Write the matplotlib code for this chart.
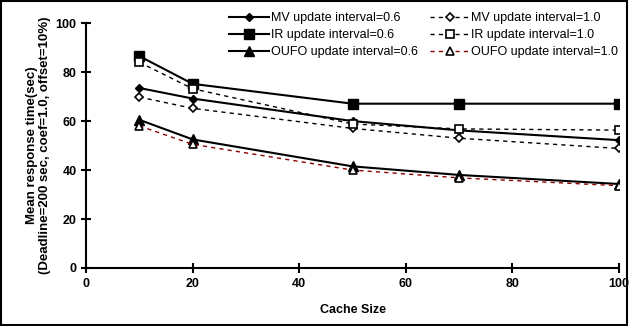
import matplotlib.pyplot as plt
from matplotlib.patches import Rectangle

cache_size = [10, 20, 50, 70, 100]
mv_06 = [73.5, 69.2, 60.0, 56.2, 52.2]
mv_10 = [69.8, 65.2, 57.0, 53.0, 48.8]
ir_06 = [86.5, 75.2, 67.1, 67.1, 67.1]
ir_10 = [84.0, 73.2, 58.8, 56.8, 56.3]
oufo_06 = [60.5, 52.5, 41.5, 38.0, 34.3]
oufo_10 = [58.0, 50.5, 40.0, 36.8, 33.6]

plt.rcParams["font.family"] = ["Liberation Sans", "DejaVu Sans"]

fig = plt.figure(figsize=(6.29, 3.26), dpi=100)
ax = fig.add_axes([0.137, 0.178, 0.847, 0.751])

ax.plot(cache_size, mv_06, color="black", lw=1.5, marker="D", ms=4.5,
        label="MV update interval=0.6")
ax.plot(cache_size, mv_10, color="black", lw=1.0, ls=(0, (3, 3)), marker="D",
        ms=4, mfc="white", mew=1.2, label="MV update interval=1.0")
ax.plot(cache_size, ir_06, color="black", lw=1.5, marker="s", ms=6.5,
        label="IR update interval=0.6")
ax.plot(cache_size, ir_10, color="black", lw=1.0, ls=(0, (3, 3)), marker="s",
        ms=6, mfc="white", mew=1.2, label="IR update interval=1.0")
ax.plot(cache_size, oufo_06, color="black", lw=1.5, marker="^", ms=6.5,
        label="OUFO update interval=0.6")
ax.plot(cache_size, oufo_10, color="#8b0000", lw=1.0, ls=(0, (3, 3)),
        marker="^", ms=6, mfc="white", mec="black", mew=1.2,
        label="OUFO update interval=1.0")

ax.set_xlim(0, 100)
ax.set_ylim(0, 100)
ax.set_xticks([0, 20, 40, 60, 80, 100])
ax.set_yticks([0, 20, 40, 60, 80, 100])
ax.spines["top"].set_visible(False)
ax.spines["right"].set_visible(False)
ax.spines["left"].set_linewidth(1.5)
ax.spines["bottom"].set_linewidth(1.5)
ax.tick_params(direction="inout", length=7, width=1.5, labelsize=9)
for lbl in ax.get_xticklabels() + ax.get_yticklabels():
    lbl.set_fontweight("bold")

ax.set_xlabel("Cache Size", fontsize=9, fontweight="bold", labelpad=10)
ax.set_ylabel("Mean response time(sec)\n(Deadline=200 sec, coef=1.0, offset=10%)",
              fontsize=9.5, fontweight="bold", labelpad=3, linespacing=1.1)

handles, labels = ax.get_legend_handles_labels()
order = [0, 2, 4, 1, 3, 5]
ax.legend([handles[i] for i in order], [labels[i] for i in order],
          ncol=2, loc="upper right", bbox_to_anchor=(1.02, 1.09),
          frameon=False, fontsize=9, handlelength=3.2, handletextpad=0.1,
          columnspacing=1.0, labelspacing=0.4)

fig.patches.append(Rectangle((0.002, 0.003), 0.995, 0.994, transform=fig.transFigure,
                             fill=False, edgecolor="black", lw=1.5))

fig.savefig("out.png", dpi=100)
